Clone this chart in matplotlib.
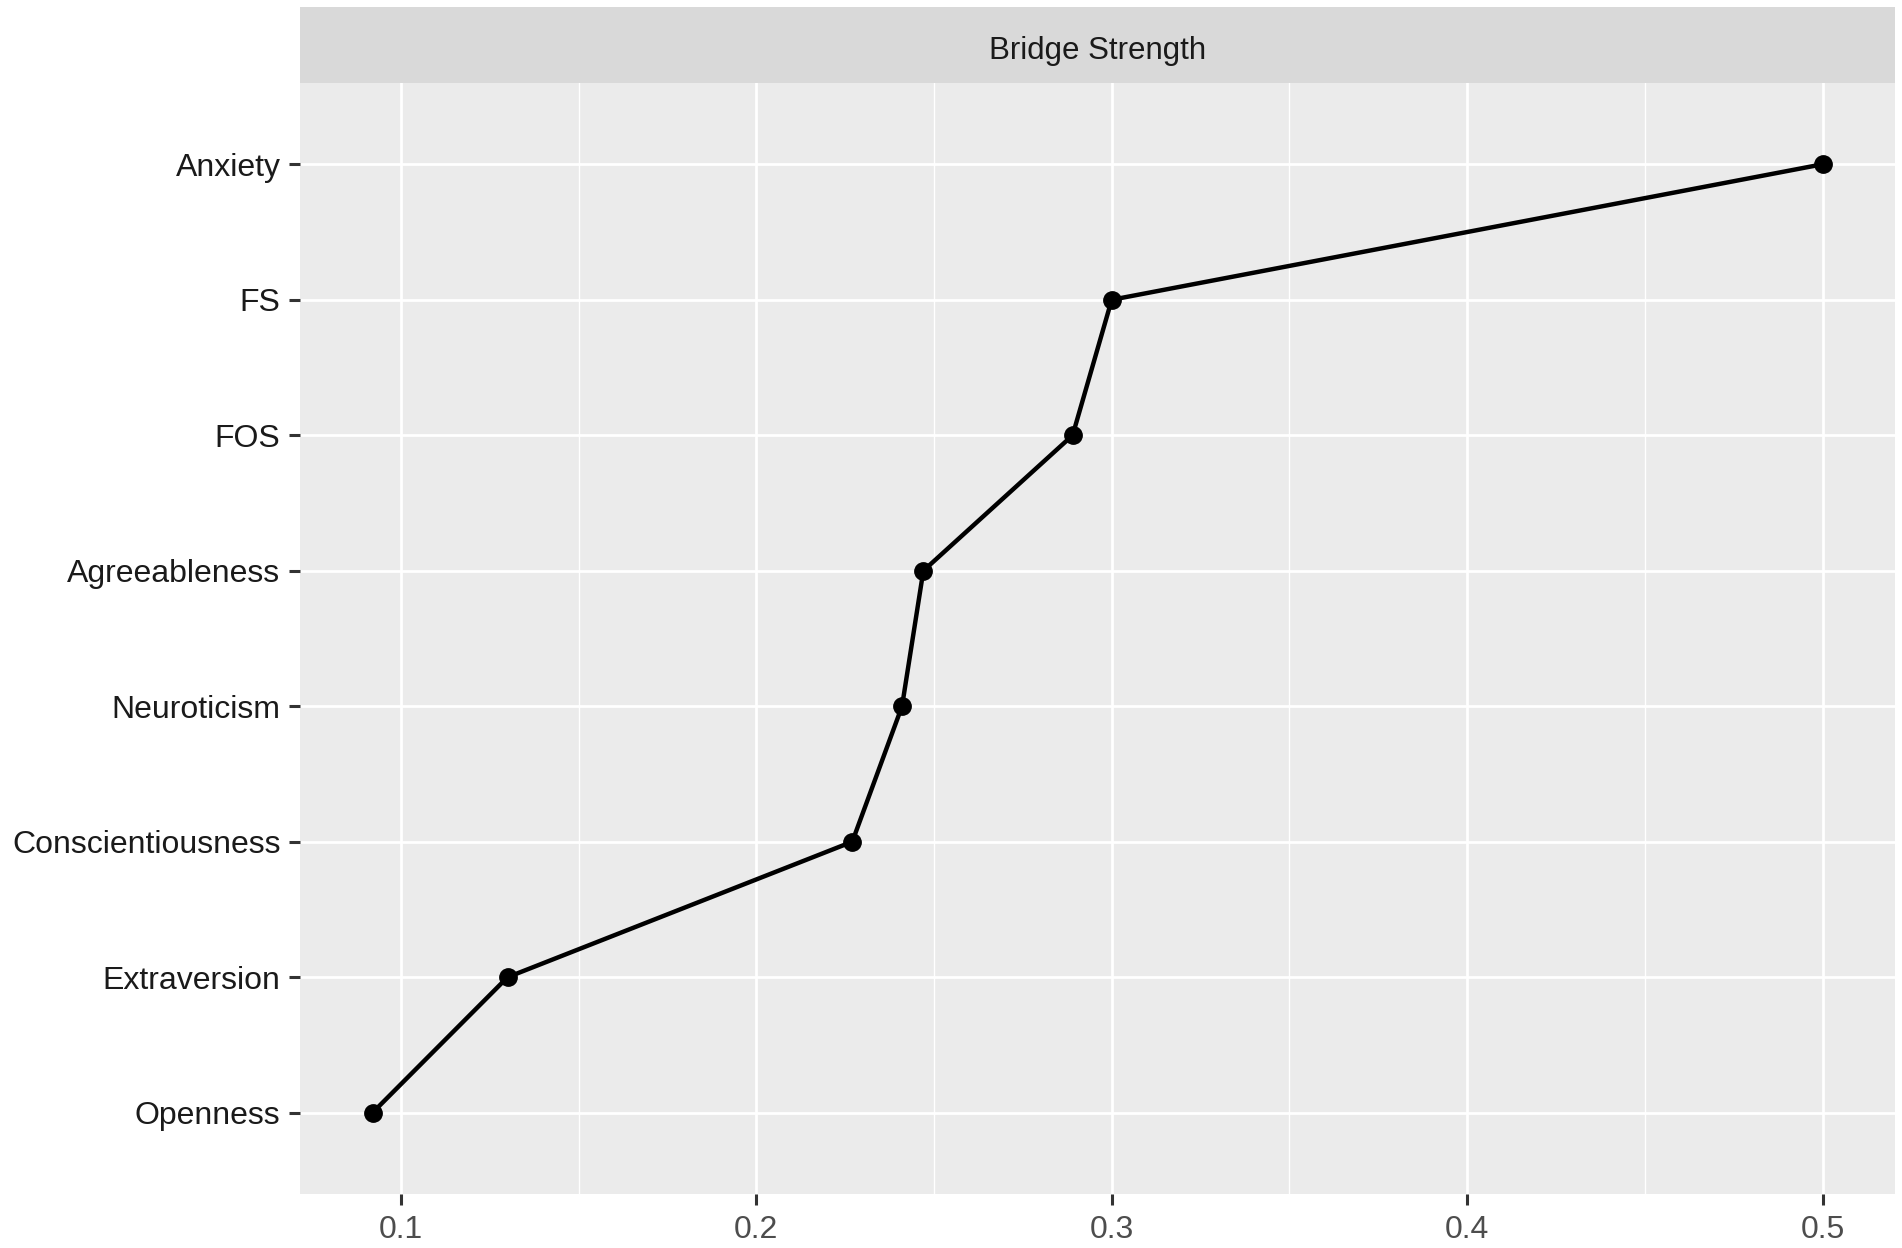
import matplotlib
matplotlib.use("Agg")
import matplotlib.pyplot as plt
import numpy as np

# nodes from bottom to top, as drawn on the y axis
NODES = ["Openness", "Extraversion", "Conscientiousness", "Neuroticism",
         "Agreeableness", "FOS", "FS", "Anxiety"]
BRIDGE_STRENGTH = [0.092, 0.130, 0.227, 0.241, 0.247, 0.289, 0.300, 0.500]
X_TICKS = [0.1, 0.2, 0.3, 0.4, 0.5]
X_MINOR = [0.15, 0.25, 0.35, 0.45]
STRIP_LABEL = "Bridge Strength"

FONT = ["Liberation Sans", "DejaVu Sans"]
plt.rcParams["font.family"] = FONT

W, H = 1902, 1248
fig = plt.figure(figsize=(W / 100, H / 100), dpi=100)

left, right = 300 / W, 1895 / W
panel_top, panel_bottom = 83 / H, 1194 / H
strip_top = 7 / H

ax = fig.add_axes([left, 1 - panel_bottom, right - left, panel_bottom - panel_top])
strip = fig.add_axes([left, 1 - panel_top, right - left, panel_top - strip_top])

ax.set_facecolor("#EBEBEB")
for side in ax.spines.values():
    side.set_visible(False)

y = np.arange(1, len(NODES) + 1)
xs = np.asarray(BRIDGE_STRENGTH)
span = xs.max() - xs.min()
ax.set_xlim(xs.min() - 0.05 * span, xs.max() + 0.05 * span)
ax.set_ylim(0.4, len(NODES) + 0.6)

for v in X_MINOR:
    ax.axvline(v, color="white", lw=1.0, zorder=0)
for v in X_TICKS:
    ax.axvline(v, color="white", lw=2.0, zorder=0)
for v in y:
    ax.axhline(v, color="white", lw=2.0, zorder=0)

ax.plot(xs, y, color="black", lw=3.2, marker="o", markersize=12.5, zorder=3)

ax.set_xticks(X_TICKS)
ax.set_xticklabels([f"{v:g}" for v in X_TICKS])
ax.set_yticks(y)
ax.set_yticklabels(NODES)
ax.tick_params(axis="both", length=8, width=2.2, color="#333333",
               labelsize=23, labelcolor="#4D4D4D", pad=6)
ax.tick_params(axis="y", labelcolor="#1A1A1A")
ax.tick_params(axis="x", pad=7)

strip.set_facecolor("#D9D9D9")
strip.set_xticks([])
strip.set_yticks([])
for side in strip.spines.values():
    side.set_visible(False)
strip.text(0.5, 0.47, STRIP_LABEL, ha="center", va="center_baseline",
           fontsize=22.5, color="#1A1A1A", transform=strip.transAxes)

fig.savefig("out.png", dpi=100)
